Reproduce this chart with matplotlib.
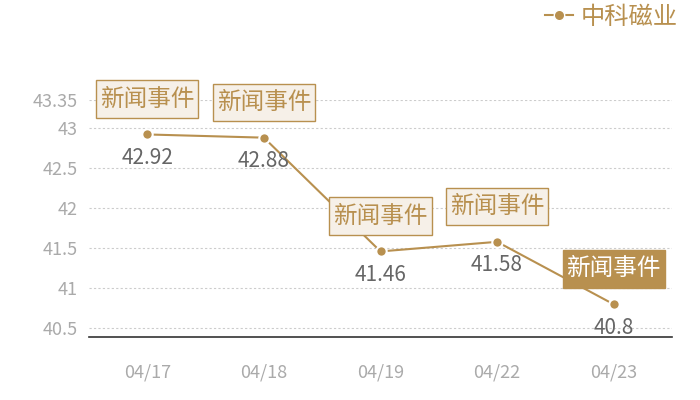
import matplotlib
matplotlib.use("Agg")
import matplotlib.pyplot as plt
from matplotlib.lines import Line2D

plt.rcParams['font.family'] = ['Noto Sans CJK SC', 'DejaVu Sans']

dates = ["04/17", "04/18", "04/19", "04/22", "04/23"]
values = [42.92, 42.88, 41.46, 41.58, 40.8]
event_labels = ["新闻事件", "新闻事件", "新闻事件", "新闻事件", "新闻事件"]
event_highlight = [False, False, False, False, True]
series_name = "中科磁业"
y_ticks = [40.5, 41, 41.5, 42, 42.5, 43, 43.35]
y_tick_labels = ["40.5", "41", "41.5", "42", "42.5", "43", "43.35"]
y_min, y_max = 40.392, 43.35

TAN = "#B8904F"
BOX_FILL = "#F6F0E8"

fig = plt.figure(figsize=(7, 4), dpi=100)
ax = fig.add_axes([89/700, 63/400, (672-89)/700, (337-100)/400])

x = list(range(len(dates)))
ax.plot(x, values, color=TAN, lw=1.5, marker='o', ms=7.5,
        markerfacecolor=TAN, markeredgecolor='white', markeredgewidth=1.5, zorder=3)

ax.set_xlim(-0.5, len(dates) - 0.5)
ax.set_ylim(y_min, y_max)
ax.set_yticks(y_ticks)
ax.set_yticklabels(y_tick_labels)
ax.set_xticks(x)
ax.set_xticklabels(dates)
ax.tick_params(axis='both', length=0, labelsize=13, colors='#AAAAAA')
ax.tick_params(axis='x', pad=19)
ax.tick_params(axis='y', pad=8)

for s in ['top', 'right', 'left']:
    ax.spines[s].set_visible(False)
ax.spines['bottom'].set_color('#333333')
ax.spines['bottom'].set_linewidth(1.2)

ax.grid(axis='y', color='#CCCCCC', lw=0.8, linestyle=(0, (2, 2)))
ax.set_axisbelow(True)

for xi, v, lab, hl in zip(x, values, event_labels, event_highlight):
    ax.annotate(f"{v:g}", (xi, v), xytext=(0, -17), textcoords='offset points',
                ha='center', va='center', fontsize=15, color='#666666', zorder=4)
    if hl:
        bbox = dict(boxstyle='square,pad=0.16', fc=TAN, ec=TAN, lw=1,
                    mutation_aspect=1.9)
        tc = 'white'
    else:
        bbox = dict(boxstyle='square,pad=0.16', fc=BOX_FILL, ec=TAN, lw=1,
                    mutation_aspect=1.9)
        tc = TAN
    ax.annotate(lab, (xi, v), xytext=(0, 25.5), textcoords='offset points',
                ha='center', va='center', fontsize=17, color=tc, bbox=bbox,
                zorder=5, annotation_clip=False)

handle = Line2D([], [], color=TAN, lw=1.5, marker='o', ms=7.5,
                markerfacecolor=TAN, markeredgecolor='white', markeredgewidth=1.0)
leg = fig.legend([handle], [series_name], loc='upper right',
                 bbox_to_anchor=(0.968, 0.99), frameon=False, fontsize=17.5,
                 handlelength=1.15, handletextpad=0.3, borderpad=0,
                 borderaxespad=0)
for t in leg.get_texts():
    t.set_color(TAN)

fig.savefig("out.png", dpi=100)
